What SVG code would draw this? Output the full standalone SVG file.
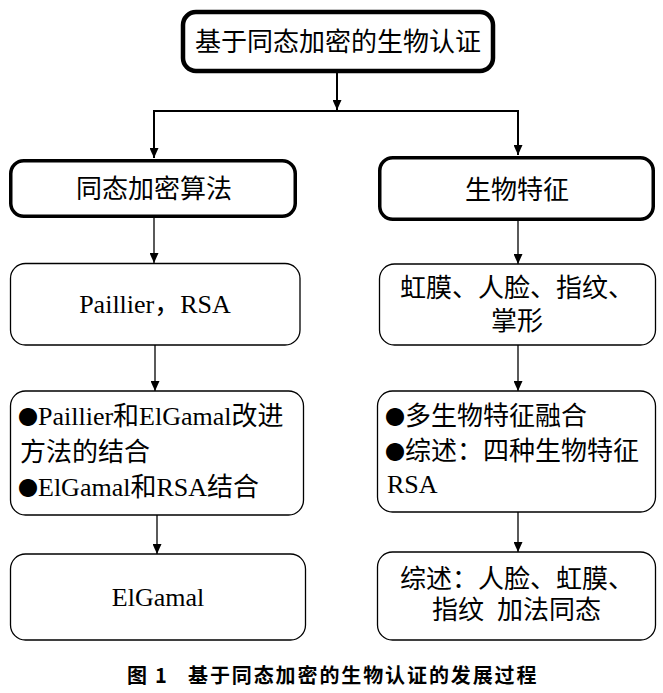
<svg xmlns="http://www.w3.org/2000/svg" width="663" height="693" viewBox="0 0 663 693">
<style>
.box{fill:#fff;stroke:#000}
.thick{stroke-width:4.5}
.mid{stroke-width:3.5}
.thin{stroke-width:1.3}
.t{font-family:"Liberation Serif","Noto Sans CJK SC",serif;font-size:26px;fill:#000}
.c{text-anchor:middle}
.b{font-family:"Noto Sans CJK SC",sans-serif;font-size:20px}
.conn{fill:none;stroke:#000}
.cap{font-family:"Noto Sans CJK SC","Liberation Sans",sans-serif;font-size:20px;font-weight:bold;fill:#000}
</style>
<defs>
<marker id="ah" viewBox="0 0 10 9" refX="10" refY="4.5" markerWidth="11" markerHeight="9" markerUnits="userSpaceOnUse" orient="auto">
<path d="M0,0 L10,4.5 L0,9 z" fill="#000"/>
</marker>
</defs>
<g id="connectors">
<line class="conn" x1="337" y1="73" x2="337" y2="110" stroke-width="2" marker-end="url(#ah)"/>
<path class="conn" d="M337,111 H154 V158" stroke-width="2" marker-end="url(#ah)"/>
<path class="conn" d="M337,111 H518 V155" stroke-width="2" marker-end="url(#ah)"/>
<line class="conn" x1="154" y1="218" x2="154" y2="263" stroke-width="1.3" marker-end="url(#ah)"/>
<line class="conn" x1="518" y1="221" x2="518" y2="264" stroke-width="1.3" marker-end="url(#ah)"/>
<line class="conn" x1="155" y1="345" x2="155" y2="391" stroke-width="1.3" marker-end="url(#ah)"/>
<line class="conn" x1="518" y1="345" x2="518" y2="391" stroke-width="1.3" marker-end="url(#ah)"/>
<line class="conn" x1="157" y1="515" x2="157" y2="554" stroke-width="1.3" marker-end="url(#ah)"/>
<line class="conn" x1="518" y1="512" x2="518" y2="552" stroke-width="1.3" marker-end="url(#ah)"/>
</g>
<g id="root">
<rect class="box thick" x="183" y="12" width="310" height="59" rx="13"/>
<text class="t c" x="338" y="51">基于同态加密的生物认证</text>
</g>
<g id="he">
<rect class="box mid" x="10.75" y="160.75" width="284.5" height="55.5" rx="13"/>
<text class="t c" x="154" y="198">同态加密算法</text>
</g>
<g id="bio">
<rect class="box mid" x="379.75" y="157.75" width="273.5" height="61.5" rx="13"/>
<text class="t c" x="517" y="199">生物特征</text>
</g>
<g id="he2">
<rect class="box thin" x="10.5" y="263.5" width="289.5" height="81.5" rx="15"/>
<text class="t c" x="155" y="313">Paillier，RSA</text>
</g>
<g id="bio2">
<rect class="box thin" x="379.5" y="264" width="276" height="81" rx="15"/>
<text class="t c" x="517" y="297">虹膜、人脸、指纹、</text>
<text class="t c" x="517" y="330">掌形</text>
</g>
<g id="he3">
<rect class="box thin" x="10.5" y="391" width="293" height="124" rx="15"/>
<text class="t" x="18" y="425"><tspan class="b">●</tspan>Paillier和ElGamal改进</text>
<text class="t" x="20" y="461">方法的结合</text>
<text class="t" x="18" y="496"><tspan class="b">●</tspan>ElGamal和RSA结合</text>
</g>
<g id="bio3">
<rect class="box thin" x="377.5" y="391" width="278" height="121" rx="15"/>
<text class="t" x="385" y="425"><tspan class="b">●</tspan>多生物特征融合</text>
<text class="t" x="385" y="460"><tspan class="b">●</tspan>综述：四种生物特征</text>
<text class="t" x="387" y="493">RSA</text>
</g>
<g id="he4">
<rect class="box thin" x="10.5" y="554" width="295" height="86" rx="15"/>
<text class="t c" x="158" y="606">ElGamal</text>
</g>
<g id="bio4">
<rect class="box thin" x="377.5" y="552" width="278" height="88" rx="15"/>
<text class="t c" x="517" y="588">综述：人脸、虹膜、</text>
<text class="t" y="619"><tspan x="432">指纹</tspan><tspan x="497">加法同态</tspan></text>
</g>
<g id="caption">
<text class="cap" x="127" y="683">图</text>
<text class="cap" x="155" y="683" font-family="Liberation Sans">1</text>
<text class="cap" x="188" y="683" letter-spacing="1.9">基于同态加密的生物认证的发展过程</text>
</g>
</svg>
